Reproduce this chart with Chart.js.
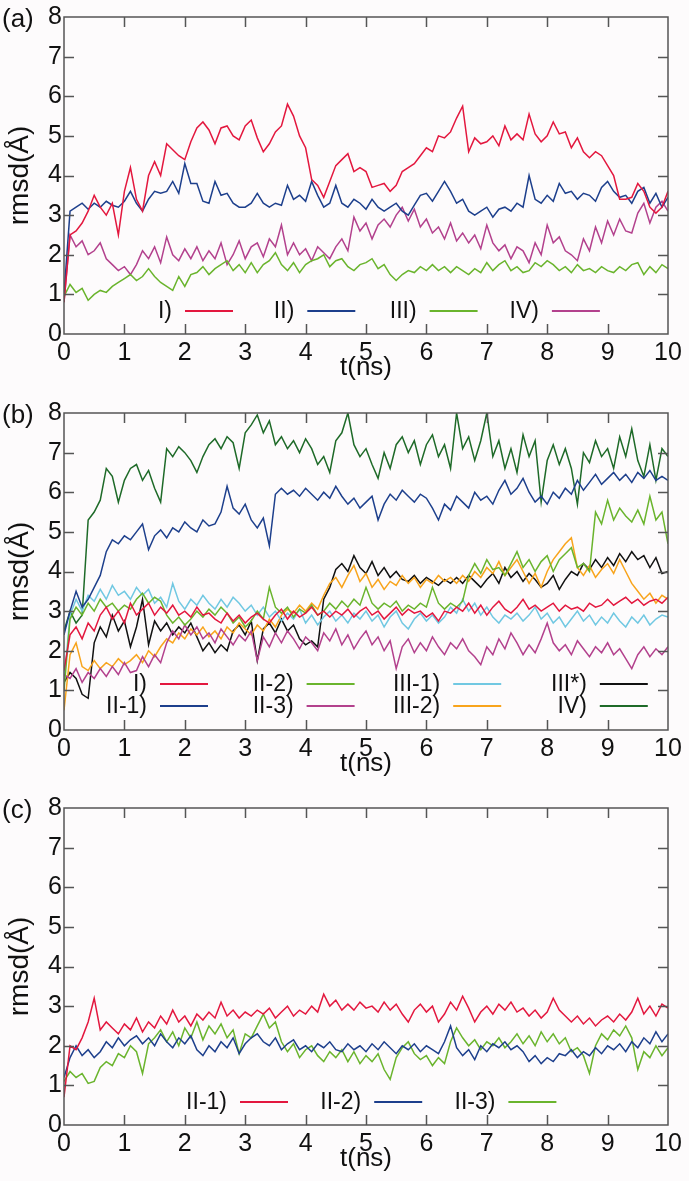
<!DOCTYPE html>
<html>
<head>
<meta charset="utf-8">
<script src="https://cdn.jsdelivr.net/npm/chart.js@4.4.1/dist/chart.umd.min.js"></script>
<style>
body { margin:0; background:#fdfbfc; }
.panel { position:absolute; left:0; width:689px; }
</style>
</head>
<body>
<div class="panel" style="top:0px"><canvas id="chartA" width="689" height="396"></canvas></div>
<div class="panel" style="top:396px"><canvas id="chartB" width="689" height="395"></canvas></div>
<div class="panel" style="top:791px"><canvas id="chartC" width="689" height="390"></canvas></div>
<script>
// time axis (ns)
var t = [0,0.1,0.2,0.3,0.4,0.5,0.6,0.7,0.8,0.9,
  1,1.1,1.2,1.3,1.4,1.5,1.6,1.7,1.8,1.9,
  2,2.1,2.2,2.3,2.4,2.5,2.6,2.7,2.8,2.9,
  3,3.1,3.2,3.3,3.4,3.5,3.6,3.7,3.8,3.9,
  4,4.1,4.2,4.3,4.4,4.5,4.6,4.7,4.8,4.9,
  5,5.1,5.2,5.3,5.4,5.5,5.6,5.7,5.8,5.9,
  6,6.1,6.2,6.3,6.4,6.5,6.6,6.7,6.8,6.9,
  7,7.1,7.2,7.3,7.4,7.5,7.6,7.7,7.8,7.9,
  8,8.1,8.2,8.3,8.4,8.5,8.6,8.7,8.8,8.9,
  9,9.1,9.2,9.3,9.4,9.5,9.6,9.7,9.8,9.9,
  10];

// panel (a)
var aI = [0.8,2.5,2.6,2.8,3.1,3.5,3.2,3.0,3.3,2.5,
  3.6,4.2,3.4,3.1,4.0,4.35,4.0,4.8,4.65,4.5,
  4.4,4.85,5.2,5.35,5.15,4.8,5.2,5.25,5.0,4.9,
  5.25,5.4,4.95,4.6,4.8,5.1,5.25,5.8,5.5,5.0,
  4.7,3.9,3.75,3.45,3.85,4.25,4.4,4.55,4.1,4.2,
  4.1,3.7,3.75,3.8,3.6,3.75,4.1,4.2,4.3,4.5,
  4.7,4.6,5.0,4.95,5.1,5.45,5.75,4.6,4.95,4.8,
  4.85,5.0,4.75,5.25,4.9,5.05,4.9,5.55,5.05,4.85,
  5.0,5.35,5.05,5.1,4.7,4.95,4.6,4.45,4.6,4.5,
  4.25,4.0,3.4,3.4,3.45,3.8,3.6,3.2,3.05,3.2,
  3.6];
var aII = [1.0,3.1,3.2,3.3,3.15,3.3,3.2,3.35,3.25,3.2,
  3.35,3.6,3.3,3.1,3.4,3.6,3.55,3.6,3.85,3.55,
  4.3,3.8,3.8,3.35,3.3,3.85,3.5,3.55,3.3,3.2,
  3.2,3.3,3.55,3.3,3.2,3.3,3.25,3.75,3.4,3.5,
  3.35,3.85,3.5,3.2,3.3,3.75,3.3,3.2,3.4,3.3,
  3.15,3.4,3.2,3.1,3.2,3.3,3.1,3.0,3.25,3.5,
  3.55,3.35,3.6,3.85,3.6,3.3,3.4,3.1,3.0,3.1,
  3.2,2.95,3.15,3.2,3.1,3.3,3.2,4.0,3.4,3.3,
  3.5,3.35,3.8,3.55,3.6,3.4,3.55,3.5,3.35,3.7,
  3.85,3.6,3.45,3.5,3.3,3.6,3.7,3.3,3.55,3.2,
  3.45];
var aIII = [0.95,1.25,1.05,1.15,0.85,1.0,1.1,1.05,1.2,1.3,
  1.4,1.5,1.35,1.45,1.65,1.45,1.3,1.2,1.1,1.45,
  1.2,1.5,1.55,1.7,1.5,1.65,1.75,1.85,1.6,1.75,
  1.55,1.8,1.55,1.75,1.85,2.05,1.75,1.6,1.8,1.55,
  1.75,1.85,1.9,2.0,1.7,1.85,1.9,1.7,1.6,1.75,
  1.8,1.9,1.65,1.75,1.5,1.35,1.5,1.6,1.55,1.7,
  1.6,1.75,1.6,1.7,1.55,1.7,1.6,1.5,1.65,1.55,
  1.8,1.6,1.75,1.85,1.6,1.7,1.55,1.6,1.8,1.7,
  1.85,1.75,1.6,1.7,1.55,1.75,1.6,1.65,1.55,1.7,
  1.6,1.55,1.7,1.6,1.75,1.8,1.5,1.7,1.55,1.75,
  1.65];
var aIV = [0.8,2.5,2.2,2.35,2.0,2.1,2.3,1.9,1.75,1.6,
  1.7,1.5,1.75,2.1,1.9,2.2,1.8,2.45,2.0,1.85,
  2.15,1.9,2.2,1.85,2.1,1.9,2.3,1.75,2.0,2.35,
  1.9,2.2,2.3,1.95,2.4,2.2,2.75,2.0,2.3,2.0,
  2.15,1.85,2.2,2.05,1.9,2.2,2.4,2.1,2.95,2.6,
  2.8,2.4,2.75,2.9,2.7,3.0,3.2,2.85,3.15,2.7,
  2.9,2.55,2.7,2.4,2.8,2.35,2.55,2.3,2.5,2.15,
  2.75,2.3,2.1,2.25,1.9,2.2,2.1,1.8,2.3,2.0,
  2.75,2.3,2.45,2.1,2.0,1.85,2.4,2.1,2.7,2.3,
  2.85,2.5,2.9,2.6,2.55,3.05,3.3,2.8,3.2,3.35,
  3.1];

// panel (b)
var bI = [1.5,2.4,2.6,2.3,2.7,2.5,2.9,3.1,2.8,3.0,
  2.7,3.2,2.9,3.05,3.2,2.9,3.1,2.95,3.15,2.9,
  3.0,2.85,3.1,2.9,2.95,2.8,2.7,2.95,2.75,2.9,
  2.7,2.85,2.95,2.8,2.7,2.9,3.05,2.8,3.0,2.85,
  2.95,3.1,2.9,3.0,2.85,3.0,2.9,3.05,2.85,3.0,
  3.1,2.9,3.0,2.8,2.95,3.1,2.9,3.05,2.95,3.0,
  2.85,2.95,2.75,3.0,2.95,3.1,3.0,3.2,2.95,3.15,
  2.9,3.1,3.25,3.05,2.95,3.1,3.3,3.05,3.15,3.0,
  3.1,3.2,3.0,3.15,3.05,3.1,3.0,3.2,3.1,3.15,
  3.3,3.15,3.25,3.35,3.2,3.3,3.15,3.25,3.3,3.2,
  3.35];
var bII1 = [2.4,3.0,3.5,3.1,3.3,3.6,3.9,4.5,4.8,4.7,
  4.9,4.8,5.0,5.2,4.55,4.9,5.05,4.85,5.1,5.0,
  5.25,5.1,5.0,5.3,5.15,5.2,5.5,6.15,5.6,5.45,
  5.7,5.3,5.1,5.35,4.65,5.95,6.1,5.95,6.05,5.9,
  6.1,5.95,5.8,6.0,5.85,6.15,5.9,5.7,5.85,5.6,
  5.75,5.9,5.3,5.7,5.95,5.8,6.05,5.9,5.75,5.95,
  5.85,5.6,5.3,5.7,5.55,5.9,5.75,5.6,6.0,5.8,
  5.9,5.7,6.05,6.3,5.95,6.1,6.35,6.0,5.75,5.9,
  5.7,6.0,5.85,6.1,5.95,6.3,6.05,6.25,6.45,6.2,
  6.35,6.5,6.3,6.45,6.25,6.5,6.35,6.55,6.3,6.4,
  6.3];
var bII2 = [1.0,2.8,3.1,2.9,3.2,3.0,3.3,3.1,3.2,3.0,
  3.15,3.05,3.3,3.45,3.2,3.35,3.25,2.9,2.7,2.85,
  2.65,2.8,3.0,2.85,3.05,2.9,3.1,2.95,2.7,2.85,
  2.6,2.75,3.0,2.8,3.6,3.1,2.95,3.1,2.85,3.05,
  2.95,3.15,2.9,3.0,3.2,3.05,3.25,3.1,3.3,3.15,
  3.6,3.2,3.05,3.2,3.1,3.25,3.0,3.15,3.05,3.2,
  3.1,3.6,3.2,3.05,3.2,3.1,3.25,3.9,4.2,3.95,
  4.3,4.05,4.1,3.9,4.2,4.5,4.1,4.3,4.0,4.25,
  4.4,4.0,4.3,4.45,4.6,4.1,4.2,4.0,5.5,5.2,
  5.8,5.3,5.6,5.4,5.25,5.55,5.2,5.9,5.3,5.5,
  4.7];
var bII3 = [1.4,1.3,1.55,1.2,1.45,1.3,1.55,1.35,1.6,1.4,
  1.7,1.45,1.5,1.85,1.6,1.9,1.7,2.2,2.5,2.3,
  2.65,2.4,2.6,2.3,2.45,2.2,2.55,2.35,2.15,2.4,
  2.25,2.5,1.75,2.35,2.1,2.45,2.2,2.5,2.3,2.05,
  2.35,2.2,2.0,2.45,2.25,2.55,2.15,2.4,2.05,2.3,
  2.5,2.15,2.35,2.0,2.25,1.55,2.1,2.3,1.95,2.2,
  2.0,2.35,2.1,1.9,2.2,2.05,2.3,2.0,1.85,1.65,
  2.1,1.9,2.3,2.05,2.45,2.2,1.9,2.15,1.95,2.3,
  2.7,2.2,2.0,2.15,1.9,2.25,2.05,1.85,2.1,1.95,
  2.2,1.9,2.05,1.8,1.55,1.9,2.1,1.85,2.05,1.9,
  2.1];
var bIII1 = [1.2,2.9,3.3,3.0,3.4,3.25,3.55,3.3,3.65,3.4,
  3.5,3.3,3.6,3.4,3.55,3.2,3.35,3.1,3.7,3.25,
  3.05,3.3,3.15,3.4,3.2,3.05,3.3,3.1,3.35,3.2,
  3.0,3.15,2.9,3.1,2.85,3.0,2.75,2.95,2.8,3.05,
  2.7,2.9,2.65,2.85,3.0,2.75,2.9,2.7,2.95,2.8,
  3.0,2.75,2.9,2.6,2.85,3.0,2.7,2.55,2.8,2.95,
  2.75,2.9,2.7,2.85,3.1,2.95,3.3,3.0,3.2,2.9,
  3.1,2.85,2.7,2.9,2.8,2.95,2.75,2.9,3.1,2.8,
  2.95,2.7,2.85,2.6,2.8,3.0,2.75,2.9,2.65,2.85,
  2.7,2.95,2.75,2.6,2.85,2.7,2.9,2.65,2.8,2.9,
  2.85];
var bIII2 = [0.5,1.9,2.2,1.6,1.5,1.75,1.55,1.7,1.6,1.8,
  1.65,1.75,1.9,1.7,2.0,1.85,2.1,2.3,2.2,2.45,
  2.3,2.55,2.4,2.6,2.35,2.5,2.3,2.6,2.45,2.7,
  2.55,2.4,2.65,2.5,2.8,2.6,2.9,3.05,2.95,3.15,
  3.0,3.2,3.05,3.4,3.7,3.85,3.6,3.9,4.15,3.75,
  3.95,3.6,3.8,3.55,3.75,3.65,3.9,3.7,3.85,3.6,
  3.8,3.7,3.9,3.75,3.85,3.7,3.9,3.75,4.0,3.85,
  4.1,3.95,4.25,3.9,4.1,4.3,4.0,3.7,3.95,3.6,
  4.0,4.3,4.5,4.7,4.85,4.1,3.9,4.15,3.85,4.05,
  4.2,3.95,4.3,4.0,3.7,3.5,3.3,3.45,3.2,3.4,
  3.3];
var bIIIs = [1.2,1.45,1.3,0.9,0.8,2.2,2.6,2.35,2.9,2.5,
  2.75,2.1,2.6,3.3,2.15,2.75,2.5,2.7,2.4,2.6,
  2.45,2.7,2.35,2.0,2.2,1.95,2.15,2.0,2.5,2.65,
  2.4,2.75,1.75,2.55,2.7,2.45,2.8,2.5,2.65,2.3,
  2.15,2.25,2.1,3.3,3.6,4.05,4.2,4.0,4.4,4.1,
  3.95,4.25,3.9,4.1,3.85,4.0,3.8,3.75,3.9,3.7,
  3.85,3.75,3.65,3.8,3.7,3.85,3.7,3.9,3.75,3.6,
  3.8,3.95,3.7,4.1,3.85,4.0,3.75,3.95,3.8,3.6,
  3.7,3.9,3.55,3.8,4.0,3.9,4.2,4.05,4.3,4.1,
  4.35,4.15,4.45,4.25,4.5,4.3,4.4,4.1,4.35,3.95,
  4.0];
var bIV = [2.5,3.0,2.7,2.9,5.3,5.5,5.8,6.6,6.4,5.75,
  6.3,6.6,6.7,6.3,6.55,6.1,5.75,7.1,6.9,7.15,
  7.0,6.8,6.5,6.9,7.2,7.35,7.1,7.4,7.25,6.6,
  7.5,7.7,7.95,7.5,7.8,7.2,7.4,7.1,7.3,7.0,
  7.35,7.1,6.7,6.9,6.5,7.3,7.5,8.0,7.2,6.9,
  7.1,6.7,6.35,7.0,6.6,7.2,7.4,7.0,7.3,6.7,
  7.2,7.45,6.9,7.2,6.6,8.0,7.1,7.4,6.8,7.3,
  8.0,6.9,7.3,6.6,7.1,6.5,7.45,6.9,7.3,5.75,
  6.8,7.2,6.7,7.1,6.6,5.7,7.0,6.75,7.3,6.9,
  7.1,6.6,7.4,6.9,7.6,6.8,6.4,7.2,6.3,7.1,
  6.9];

// panel (c)
var cII1 = [0.7,2.0,1.9,2.2,2.6,3.2,2.4,2.6,2.45,2.3,
  2.55,2.4,2.7,2.35,2.6,2.45,2.75,2.55,2.9,2.6,
  2.75,2.5,2.8,2.65,2.85,2.7,3.1,2.75,2.9,2.7,
  2.85,2.75,2.9,2.8,2.95,2.7,2.85,3.0,2.75,2.9,
  2.8,3.0,2.85,3.3,3.0,3.15,2.9,3.05,2.9,3.1,
  2.95,3.0,2.85,3.1,2.9,3.05,2.8,2.6,2.9,3.05,
  2.85,3.0,2.6,2.8,3.1,2.9,3.25,2.95,2.6,2.85,
  3.0,2.8,3.05,2.9,3.1,2.85,2.95,2.75,2.9,2.7,
  2.85,3.2,2.9,2.75,2.6,2.75,2.55,2.7,2.5,2.65,
  2.75,2.6,2.8,2.65,2.85,3.2,2.8,3.0,2.75,3.05,
  2.95];
var cII2 = [1.2,1.7,2.0,1.75,1.9,1.7,1.85,2.1,1.95,2.2,
  2.0,2.15,2.25,2.05,2.2,2.0,2.3,2.1,1.95,2.2,
  2.05,2.25,1.9,1.75,2.0,1.85,2.1,1.95,2.2,1.8,
  2.05,2.2,2.3,2.1,2.0,2.2,1.9,2.05,2.15,1.9,
  2.0,1.85,2.05,1.95,2.1,1.9,1.85,2.05,1.9,2.0,
  1.85,2.05,1.9,2.1,1.95,1.8,2.0,1.9,2.05,1.85,
  2.0,1.9,1.8,2.1,2.5,1.95,1.75,1.9,1.65,2.0,
  1.85,2.05,1.95,2.1,1.9,2.0,1.85,1.6,1.75,1.55,
  1.7,1.6,1.8,1.75,1.9,1.7,1.85,1.75,1.95,1.8,
  2.0,1.9,2.05,1.85,2.1,1.95,2.2,2.05,2.35,2.1,
  2.3];
var cII3 = [1.1,1.35,1.2,1.3,1.05,1.1,1.45,1.6,1.5,1.8,
  1.7,2.0,1.85,1.3,2.05,2.2,2.4,2.1,2.35,2.0,
  2.45,2.2,2.6,2.15,2.5,2.3,2.55,2.2,2.4,1.8,
  2.3,2.2,2.5,2.8,2.45,2.6,2.1,1.85,2.05,1.7,
  1.9,2.0,1.75,1.6,1.85,1.7,1.9,1.6,1.85,1.55,
  1.75,1.6,1.8,1.4,1.15,1.7,1.95,2.1,1.8,1.65,
  1.75,1.5,1.7,1.55,2.1,2.45,2.2,2.0,2.15,1.9,
  2.1,2.0,2.2,1.95,2.1,2.3,2.05,2.25,2.0,2.35,
  2.1,2.3,2.05,2.2,1.85,1.95,1.75,1.3,2.0,2.3,
  2.15,2.4,2.25,2.5,2.2,1.4,1.85,1.7,2.0,1.75,
  1.95];

var namesA = ['I)', 'II)', 'III)', 'IV)'];
var namesB = ['I)', 'II-1)', 'II-2)', 'II-3)', 'III-1)', 'III-2)', 'III*)', 'IV)'];
var namesC = ['II-1)', 'II-2)', 'II-3)'];

var RED = '#e3173e', BLUE = '#1d3f8c', GREEN = '#6ab42d', MAG = '#b3418d';
var CYAN = '#71c8e2', ORANGE = '#f8a41c', BLACK = '#111111', DKGREEN = '#1e6a28';

var FONT = '"Liberation Sans", Arial, sans-serif';

// frame, inward ticks, legend and texts
var decor = {
  id: 'decor',
  afterDatasetsDraw: function(chart, args, opts) {
    var ctx = chart.ctx;
    ctx.save();
    ctx.font = '23px ' + FONT;
    ctx.textAlign = 'right';
    ctx.textBaseline = 'middle';
    chart.data.datasets.forEach(function(ds, k) {
      var col = Math.floor(k / opts.rows), row = k % opts.rows;
      var x = opts.x0 + col * opts.dx, y = opts.y0 + row * opts.dy;
      ctx.fillStyle = '#111';
      ctx.fillText(ds.label, x, y + 1);
      ctx.strokeStyle = ds.borderColor;
      ctx.lineWidth = 2;
      ctx.beginPath();
      ctx.moveTo(x + 13, y);
      ctx.lineTo(x + 61, y);
      ctx.stroke();
    });
    ctx.restore();
  },
  afterDraw: function(chart, args, opts) {
    var ctx = chart.ctx, a = chart.chartArea;
    var xs = chart.scales.x, ys = chart.scales.y;
    ctx.save();
    ctx.strokeStyle = '#555';
    ctx.lineWidth = 1.5;
    ctx.beginPath();
    xs.ticks.forEach(function(tk) {
      if (tk.value <= xs.min || tk.value >= xs.max) return;
      var px = Math.round(xs.getPixelForValue(tk.value)) + 0.5;
      ctx.moveTo(px, a.bottom); ctx.lineTo(px, a.bottom - 10);
      ctx.moveTo(px, a.top); ctx.lineTo(px, a.top + 10);
    });
    ys.ticks.forEach(function(tk) {
      if (tk.value <= ys.min || tk.value >= ys.max) return;
      var py = Math.round(ys.getPixelForValue(tk.value)) + 0.5;
      ctx.moveTo(a.left, py); ctx.lineTo(a.left + 10, py);
      ctx.moveTo(a.right, py); ctx.lineTo(a.right - 10, py);
    });
    ctx.stroke();
    ctx.strokeRect(a.left, a.top, a.right - a.left, a.bottom - a.top);

    ctx.fillStyle = '#111';
    ctx.textBaseline = 'middle';
    ctx.font = '26px ' + FONT;
    ctx.textAlign = 'left';
    ctx.fillText(opts.letter, 2, a.top + 3);
    ctx.font = '26px ' + FONT;
    ctx.textAlign = 'center';
    ctx.fillText('t(ns)', (a.left + a.right) / 2, a.bottom + 34);
    ctx.font = '28px ' + FONT;
    ctx.translate(20, (a.top + a.bottom) / 2);
    ctx.rotate(-Math.PI / 2);
    ctx.fillText('rmsd(Å)', 0, 0);
    ctx.restore();
  }
};

function makePanel(id, letter, names, series, colors, legend, h) {
  var datasets = series.map(function(s, k) {
    return {
      label: names[k],
      data: s,
      borderColor: colors[k],
      borderWidth: 1.5,
      pointRadius: 0,
      tension: 0,
      fill: false
    };
  });
  var tickFont = { family: FONT, size: 25 };
  return new Chart(document.getElementById(id), {
    type: 'line',
    data: { labels: t, datasets: datasets },
    options: {
      responsive: false,
      animation: false,
      layout: { padding: { left: 4, right: 21, top: 15, bottom: 0 } },
      scales: {
        x: {
          type: 'linear', min: 0, max: 10,
          grid: { display: false, drawTicks: false },
          border: { display: false },
          ticks: { stepSize: 1, autoSkip: false, maxRotation: 0, padding: 4, color: '#111', font: tickFont },
          afterFit: function(s) { s.height = h - 334; }
        },
        y: {
          min: 0, max: 8,
          grid: { display: false, drawTicks: false },
          border: { display: false },
          ticks: { stepSize: 1, padding: 2, color: '#111', font: tickFont },
          afterFit: function(s) { s.width = 60; }
        }
      },
      plugins: {
        legend: { display: false },
        tooltip: { enabled: false },
        decor: {
          letter: letter,
          rows: legend.rows, x0: legend.x0, dx: legend.dx, y0: legend.y0, dy: legend.dy
        }
      }
    },
    plugins: [decor]
  });
}

makePanel('chartA', '(a)', namesA, [aI, aII, aIII, aIV], [RED, BLUE, GREEN, MAG],
  { rows: 1, x0: 172, dx: 122.3, y0: 311, dy: 0 }, 396);
makePanel('chartB', '(b)', namesB, [bI, bII1, bII2, bII3, bIII1, bIII2, bIIIs, bIV],
  [RED, BLUE, GREEN, MAG, CYAN, ORANGE, BLACK, DKGREEN],
  { rows: 2, x0: 147, dx: 146.6, y0: 288, dy: 22 }, 395);
makePanel('chartC', '(c)', namesC, [cII1, cII2, cII3], [RED, BLUE, GREEN],
  { rows: 1, x0: 227, dx: 134.2, y0: 311, dy: 0 }, 390);
</script>
</body>
</html>
